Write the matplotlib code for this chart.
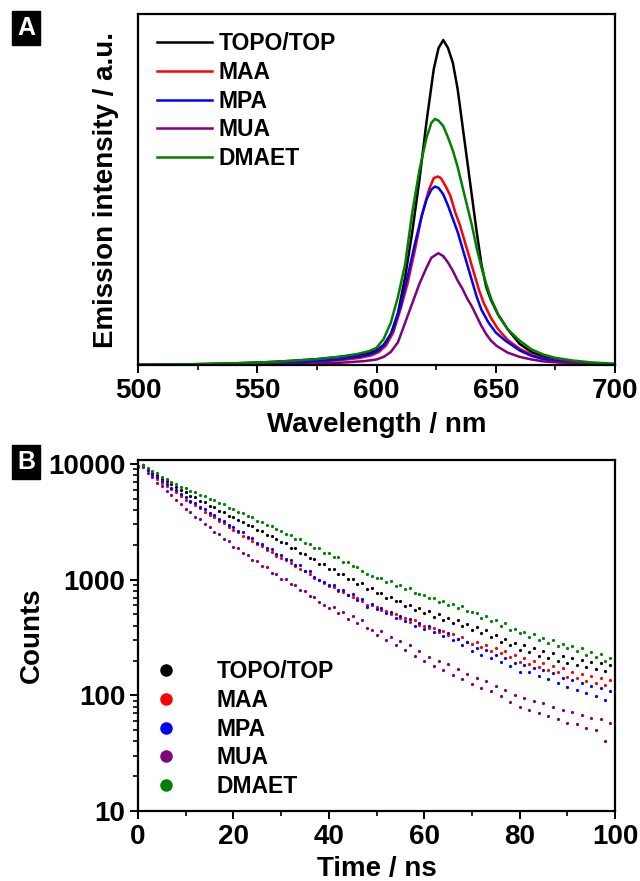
import matplotlib
matplotlib.use('Agg')
import matplotlib.pyplot as plt
from matplotlib.lines import Line2D
from matplotlib.ticker import MultipleLocator, LogLocator, NullFormatter, NullLocator

plt.rcParams['font.family'] = ['Liberation Sans', 'DejaVu Sans']
plt.rcParams['font.weight'] = 'bold'
plt.rcParams['axes.labelweight'] = 'bold'

names = ['TOPO/TOP', 'MAA', 'MPA', 'MUA', 'DMAET']
colors = ['#000000', '#ff0000', '#0000ff', '#800080', '#008000']

# ---- panel A: emission spectra (wavelength nm, intensity a.u.) ----
wl_topo = [500, 520, 540, 555, 565, 575, 585, 592, 597, 600, 603, 606, 609, 612, 615, 618,
           621, 624, 626, 628, 630, 632, 634, 636, 638, 640, 642, 644, 646, 648, 651, 655,
           660, 665, 670, 675, 680, 690, 700]
em_topo = [0.000, 0.002, 0.005, 0.009, 0.013, 0.018, 0.025, 0.031, 0.037, 0.045, 0.062, 0.095,
           0.16, 0.27, 0.41, 0.57, 0.75, 0.91, 0.975, 1.0, 0.975, 0.93, 0.85, 0.74, 0.63, 0.52,
           0.41, 0.31, 0.24, 0.20, 0.155, 0.11, 0.065, 0.04, 0.025, 0.016, 0.010, 0.005, 0.002]

wl_maa = [500, 540, 560, 575, 585, 593, 598, 601, 604, 607, 610, 613, 616, 619, 622, 624,
          625.7, 627, 629, 631, 633, 635, 637, 639, 641, 643, 645, 648, 651, 655, 660, 665,
          670, 680, 690, 700]
em_maa = [0.0, 0.002, 0.005, 0.010, 0.015, 0.022, 0.030, 0.040, 0.060, 0.10, 0.17, 0.25, 0.35,
          0.46, 0.54, 0.575, 0.58, 0.575, 0.55, 0.52, 0.47, 0.43, 0.38, 0.33, 0.28, 0.23, 0.19,
          0.145, 0.11, 0.077, 0.05, 0.032, 0.02, 0.009, 0.004, 0.002]

wl_mpa = [500, 540, 560, 575, 585, 593, 598, 601, 604, 607, 610, 613, 616, 619, 621, 623,
          624.5, 626, 628, 630, 632, 634, 636, 638, 640, 642, 644, 647, 650, 654, 660, 665,
          670, 680, 690, 700]
em_mpa = [0.0, 0.002, 0.006, 0.012, 0.018, 0.026, 0.034, 0.045, 0.068, 0.11, 0.18, 0.27, 0.37,
          0.46, 0.51, 0.54, 0.549, 0.545, 0.525, 0.49, 0.45, 0.41, 0.36, 0.31, 0.26, 0.21, 0.17,
          0.13, 0.10, 0.075, 0.045, 0.028, 0.018, 0.008, 0.004, 0.002]

wl_mua = [500, 550, 570, 585, 595, 600, 603, 606, 609, 612, 615, 618, 621, 623, 625.9, 628,
          630, 632, 634, 636, 638, 640, 642, 644, 646, 648, 650.5, 655, 660, 665, 670, 680,
          690, 700]
em_mua = [0.0, 0.001, 0.003, 0.007, 0.012, 0.017, 0.025, 0.04, 0.07, 0.13, 0.19, 0.25, 0.30,
          0.33, 0.344, 0.335, 0.315, 0.29, 0.26, 0.235, 0.205, 0.18, 0.15, 0.12, 0.095, 0.075,
          0.058, 0.038, 0.025, 0.017, 0.011, 0.006, 0.003, 0.001]

wl_dmaet = [500, 520, 540, 555, 565, 575, 585, 592, 597, 600, 603, 606, 609, 612, 615, 618,
            621, 623, 624.5, 626, 628, 630, 632, 634, 636, 638, 640, 642, 644, 646, 648, 651,
            655, 660, 665, 670, 675, 682, 690, 700]
em_dmaet = [0.0, 0.002, 0.005, 0.009, 0.013, 0.018, 0.026, 0.034, 0.043, 0.053, 0.08, 0.13,
            0.21, 0.31, 0.47, 0.60, 0.70, 0.745, 0.757, 0.752, 0.735, 0.70, 0.66, 0.61, 0.55,
            0.49, 0.43, 0.36, 0.30, 0.25, 0.205, 0.155, 0.11, 0.075, 0.048, 0.032, 0.022,
            0.014, 0.008, 0.004]

# ---- panel B: decay curves, one value per ns from 0 to 100 ns ----
time_ns = list(range(101))
cnt_topo = [9650, 9800, 9050, 8350, 7980, 7450, 7130, 6650, 6360, 5930,
            5690, 5330, 5150, 4820, 4660, 4360, 4220, 3950, 3830, 3580,
            3470, 3250, 3170, 2950, 2890, 2700, 2630, 2440, 2380, 2260,
            2110, 2060, 1890, 1860, 1700, 1680, 1530, 1510, 1360, 1360,
            1240, 1230, 1120, 1130, 1010, 1020, 920, 930, 830, 840,
            760, 770, 700, 715, 650, 660, 590, 610, 550, 570,
            510, 535, 480, 500, 445, 470, 425, 450, 395, 415,
            370, 390, 345, 365, 320, 335, 290, 305, 275, 285,
            245, 270, 235, 255, 220, 240, 210, 232, 198, 220,
            190, 210, 182, 202, 175, 195, 168, 190, 162, 182,
            165]
cnt_maa = [9600, 9650, 8800, 7950, 7400, 6900, 6500, 6080, 5700, 5300,
           4930, 4680, 4380, 4150, 3880, 3650, 3470, 3210, 3090, 2860,
           2700, 2560, 2400, 2300, 2150, 2040, 1960, 1800, 1740, 1610,
           1550, 1480, 1380, 1320, 1240, 1180, 1130, 1040, 990, 930,
           890, 860, 800, 790, 730, 710, 690, 650, 610, 600,
           575, 545, 540, 500, 505, 465, 470, 430, 445, 405,
           400, 380, 385, 355, 360, 330, 340, 305, 320, 290,
           280, 290, 260, 270, 240, 255, 230, 240, 215, 225,
           195, 212, 188, 200, 175, 190, 165, 180, 158, 172,
           145, 160, 140, 152, 132, 146, 128, 140, 122, 135,
           118]
cnt_mpa = [9650, 9750, 8950, 8150, 7700, 7150, 6780, 6250, 5920, 5450,
           5180, 4790, 4590, 4240, 4080, 3760, 3620, 3330, 3210, 2960,
           2860, 2630, 2560, 2340, 2290, 2090, 2050, 1870, 1840, 1670,
           1640, 1500, 1480, 1340, 1330, 1200, 1190, 1060, 1000, 950,
           905, 900, 815, 820, 735, 745, 670, 675, 585, 615,
           560, 570, 510, 530, 470, 490, 435, 455, 400, 420,
           375, 395, 350, 370, 325, 345, 300, 310, 275, 290,
           240, 255, 222, 245, 210, 225, 195, 210, 180, 192,
           160, 182, 158, 172, 148, 165, 138, 155, 128, 142,
           118, 135, 112, 128, 104, 120, 99, 116, 92, 108,
           100]
cnt_mua = [9500, 9350, 8350, 7650, 6900, 6450, 5800, 5400, 4850, 4520,
           4060, 3860, 3500, 3340, 3020, 2880, 2600, 2490, 2240, 2140,
           1930, 1870, 1690, 1650, 1480, 1440, 1310, 1280, 1150, 1130,
           1020, 1010, 910, 900, 810, 805, 720, 710, 640, 610,
           570, 580, 510, 525, 460, 490, 420, 445, 385, 370,
           335, 360, 300, 320, 270, 295, 245, 270, 220, 240,
           198, 215, 180, 200, 165, 185, 150, 170, 138, 152,
           125, 142, 116, 132, 108, 120, 98, 112, 88, 100,
           80, 94, 75, 90, 70, 86, 66, 80, 62, 74,
           58, 72, 56, 68, 52, 64, 50, 62, 40, 58,
           44]
cnt_dmaet = [9700, 9850, 9250, 8650, 8300, 7750, 7480, 7020, 6780, 6350,
             6150, 5820, 5680, 5370, 5250, 4960, 4850, 4560, 4470, 4200,
             4110, 3860, 3780, 3530, 3470, 3230, 3180, 2960, 2910, 2720,
             2660, 2480, 2440, 2260, 2230, 2060, 2040, 1890, 1870, 1710,
             1700, 1570, 1560, 1430, 1420, 1300, 1290, 1180, 1130, 1080,
             1030, 1040, 950, 965, 890, 900, 830, 840, 770, 745,
             740, 690, 700, 645, 655, 605, 615, 565, 590, 535,
             530, 510, 470, 490, 440, 445, 400, 420, 370, 375,
             345, 355, 320, 340, 300, 315, 285, 300, 265, 280,
             255, 265, 240, 255, 225, 235, 215, 228, 200, 212,
             195]

spectra = [(wl_topo, em_topo), (wl_maa, em_maa), (wl_mpa, em_mpa),
           (wl_mua, em_mua), (wl_dmaet, em_dmaet)]
decays = [cnt_topo, cnt_maa, cnt_mpa, cnt_mua, cnt_dmaet]

W, H = 640, 881
fig = plt.figure(figsize=(W / 100, H / 100), dpi=100)

def px_axes(left, top, right, bottom):
    return fig.add_axes([left / W, 1 - bottom / H, (right - left) / W, (bottom - top) / H])

def style(ax):
    for s in ax.spines.values():
        s.set_linewidth(1.6)
    ax.tick_params(which='major', direction='out', length=6, width=1.4,
                   labelsize=20, pad=3, top=False, right=False)
    ax.tick_params(which='minor', direction='out', length=3.5, width=1.2,
                   top=False, right=False)

# panel A
axA = px_axes(138, 14, 615, 365)
for (wl, em), c, n in zip(spectra, colors, names):
    axA.plot(wl, em, color=c, lw=1.8, label=n)
axA.set_xlim(500, 700)
axA.set_ylim(0, 1.08)
axA.xaxis.set_major_locator(MultipleLocator(50))
axA.xaxis.set_minor_locator(MultipleLocator(25))
axA.yaxis.set_major_locator(NullLocator())
style(axA)
axA.set_xlabel('Wavelength / nm', fontsize=20, labelpad=6)
axA.set_ylabel('Emission intensity / a.u.', fontsize=20, labelpad=14)
axA.legend(loc='upper left', bbox_to_anchor=(0.04, 0.948), frameon=False,
           fontsize=16.5, handlelength=2.4, handletextpad=0.28, labelspacing=0.25,
           borderpad=0, borderaxespad=0)

# panel B
axB = px_axes(138, 460, 615, 811)
for cnt, c in zip(decays, colors):
    axB.plot(time_ns, cnt, 'o', color=c, ms=2.3, mew=0)
axB.set_yscale('log')
axB.set_xlim(0, 100)
axB.set_ylim(10, 10830)
axB.xaxis.set_major_locator(MultipleLocator(20))
axB.xaxis.set_minor_locator(MultipleLocator(10))
axB.yaxis.set_minor_locator(LogLocator(base=10, subs=range(2, 10), numticks=10))
axB.yaxis.set_minor_formatter(NullFormatter())
axB.set_yticks([10, 100, 1000, 10000])
axB.set_yticklabels(['10', '100', '1000', '10000'])
style(axB)
axB.set_xlabel('Time / ns', fontsize=20, labelpad=5)
axB.set_ylabel('Counts', fontsize=20, labelpad=2)
handles = [Line2D([], [], ls='none', marker='o', ms=9, mew=0, color=c) for c in colors]
axB.legend(handles, names, loc='upper left', bbox_to_anchor=(0.02, 0.43), frameon=False,
           fontsize=16.5, handlelength=1.6, handletextpad=1.4, labelspacing=0.25,
           borderpad=0, borderaxespad=0)

# panel letters
for letter, y in [('A', 28), ('B', 462)]:
    fig.text(26 / W, 1 - y / H, letter, color='white', fontsize=18, fontweight='bold',
             ha='center', va='center',
             bbox=dict(boxstyle='square,pad=0.2', fc='black', ec='black'))

fig.savefig('out.png', dpi=100)
